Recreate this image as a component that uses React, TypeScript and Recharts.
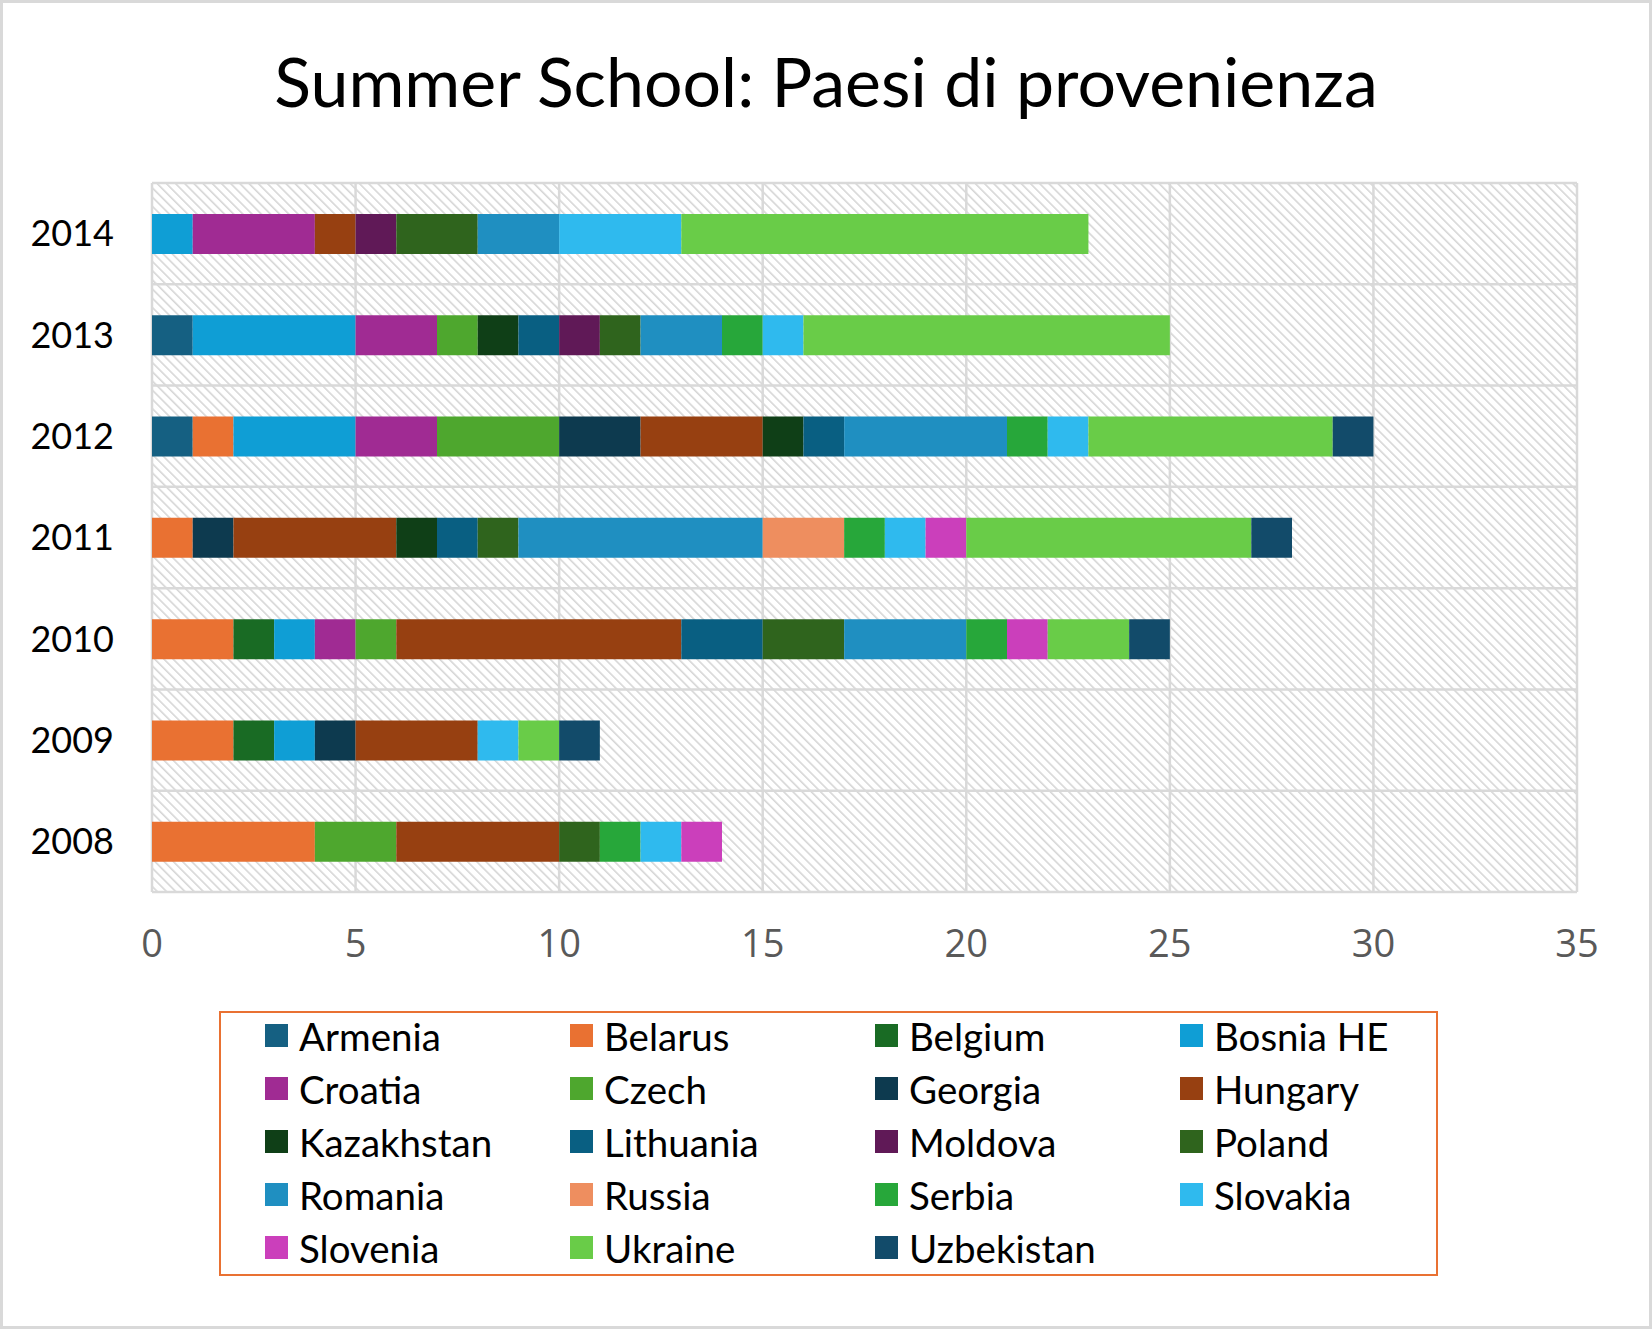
import React from 'react';
import { BarChart, Bar, XAxis, YAxis, CartesianGrid, Legend } from 'recharts';

const years = ['2014', '2013', '2012', '2011', '2010', '2009', '2008'];

const countries = [
  'Armenia', 'Belarus', 'Belgium', 'Bosnia HE', 'Croatia', 'Czech', 'Georgia',
  'Hungary', 'Kazakhstan', 'Lithuania', 'Moldova', 'Poland', 'Romania', 'Russia',
  'Serbia', 'Slovakia', 'Slovenia', 'Ukraine', 'Uzbekistan',
];

// values per year in order 2014, 2013, 2012, 2011, 2010, 2009, 2008
const armenia = [0, 1, 1, 0, 0, 0, 0];
const belarus = [0, 0, 1, 1, 2, 2, 4];
const belgium = [0, 0, 0, 0, 1, 1, 0];
const bosnia = [1, 4, 3, 0, 1, 1, 0];
const croatia = [3, 2, 2, 0, 1, 0, 0];
const czech = [0, 1, 3, 0, 1, 0, 2];
const georgia = [0, 0, 2, 1, 0, 1, 0];
const hungary = [1, 0, 3, 4, 7, 3, 4];
const kazakhstan = [0, 1, 1, 1, 0, 0, 0];
const lithuania = [0, 1, 1, 1, 2, 0, 0];
const moldova = [1, 1, 0, 0, 0, 0, 0];
const poland = [2, 1, 0, 1, 2, 0, 1];
const romania = [2, 2, 4, 6, 3, 0, 0];
const russia = [0, 0, 0, 2, 0, 0, 0];
const serbia = [0, 1, 1, 1, 1, 0, 1];
const slovakia = [3, 1, 1, 1, 0, 1, 1];
const slovenia = [0, 0, 0, 1, 1, 0, 1];
const ukraine = [10, 9, 6, 7, 2, 1, 0];
const uzbekistan = [0, 0, 1, 1, 1, 1, 0];

const seriesValues = [
  armenia, belarus, belgium, bosnia, croatia, czech, georgia, hungary, kazakhstan,
  lithuania, moldova, poland, romania, russia, serbia, slovakia, slovenia, ukraine, uzbekistan,
];

const colors = [
  '#156082', '#E97132', '#196B24', '#0F9ED5', '#A02B93', '#4EA72E', '#0D3A4F',
  '#974011', '#0F3F17', '#095F82', '#601957', '#2F641D', '#1F8FC1', '#EE8E5F',
  '#27A73A', '#2FBAEE', '#CB3FBB', '#69CC48', '#124B6A',
];

const xTicks = [0, 5, 10, 15, 20, 25, 30, 35];

const data = years.map((year, i) => {
  const row: Record<string, any> = { year };
  countries.forEach((c, j) => {
    row[c] = seriesValues[j][i];
  });
  return row;
});

const FONT = 'Lato, "Open Sans", sans-serif';

const LegendContent = () => (
  <div
    style={{
      boxSizing: 'border-box',
      width: '100%',
      height: '100%',
      border: '2.5px solid #E97132',
      paddingLeft: 44,
      fontFamily: FONT,
      fontSize: 38.5,
      color: '#000',
      overflow: 'hidden',
    }}
  >
    <div
      style={{
        position: 'relative',
        top: -4,
        display: 'grid',
        gridTemplateColumns: 'repeat(4, 305px)',
        gridAutoRows: '53px',
      }}
    >
      {countries.map((c, j) => (
        <div key={c} style={{ display: 'flex', alignItems: 'center', whiteSpace: 'nowrap' }}>
          <span
            style={{
              display: 'inline-block',
              width: 23,
              height: 23,
              background: colors[j],
              marginRight: 11,
              flex: 'none',
            }}
          />
          <span>{c}</span>
        </div>
      ))}
    </div>
  </div>
);

export default function App() {
  return (
    <div style={{ position: 'absolute', left: 0, top: 0, width: 1652, height: 1329, background: '#fff' }}>
      <svg width={1652} height={140} style={{ position: 'absolute', left: 0, top: 0 }}>
        <text x={826} y={107} textAnchor="middle" fontFamily={FONT} fontSize={68} fill="#000">
          Summer School: Paesi di provenienza
        </text>
      </svg>
      <div style={{ position: 'absolute', left: 0, top: 0 }}>
        <BarChart
          width={1652}
          height={1329}
          data={data}
          layout="vertical"
          barSize={40}
          margin={{ top: 183, right: 75, bottom: 377, left: 0 }}
        >
          <defs>
            <pattern
              id="hatch"
              patternUnits="userSpaceOnUse"
              width={6.5}
              height={6.5}
              patternTransform="rotate(-45)"
            >
              <rect x={0} y={0} width={6.5} height={6.5} fill="#ffffff" />
              <rect x={0} y={0} width={1.6} height={6.5} fill="#D6D6D6" />
            </pattern>
          </defs>
          <CartesianGrid
            fill="url(#hatch)"
            fillOpacity={1}
            stroke="#D9D9D9"
            strokeWidth={2.5}
            horizontalCoordinatesGenerator={({ offset }: any) =>
              years.map((_, i) => offset.top + (i * offset.height) / years.length).concat([offset.top + offset.height])
            }
          />
          <XAxis
            type="number"
            domain={[0, 35]}
            ticks={xTicks}
            axisLine={false}
            tickLine={false}
            tickSize={0}
            tickMargin={38}
            height={60}
            interval={0}
            tick={{ fill: '#595959', fontSize: 38, fontFamily: '"Open Sans", sans-serif' }}
          />
          <YAxis
            type="category"
            dataKey="year"
            width={152}
            axisLine={false}
            tickLine={false}
            tickSize={0}
            tickMargin={38}
            tick={{ fill: '#000', fontSize: 36, fontFamily: FONT }}
          />
          {countries.map((c, j) => (
            <Bar key={c} dataKey={c} stackId="a" fill={colors[j]} isAnimationActive={false} />
          ))}
          <Legend
            layout="vertical"
            align="center"
            verticalAlign="middle"
            content={<LegendContent />}
            wrapperStyle={{ left: 219, top: 1011, width: 1219, height: 265, right: 'auto', bottom: 'auto' }}
          />
        </BarChart>
      </div>
      <div
        style={{
          position: 'absolute',
          left: 0,
          top: 0,
          width: 1652,
          height: 1329,
          boxSizing: 'border-box',
          border: '3px solid #D9D9D9',
          pointerEvents: 'none',
        }}
      />
    </div>
  );
}
